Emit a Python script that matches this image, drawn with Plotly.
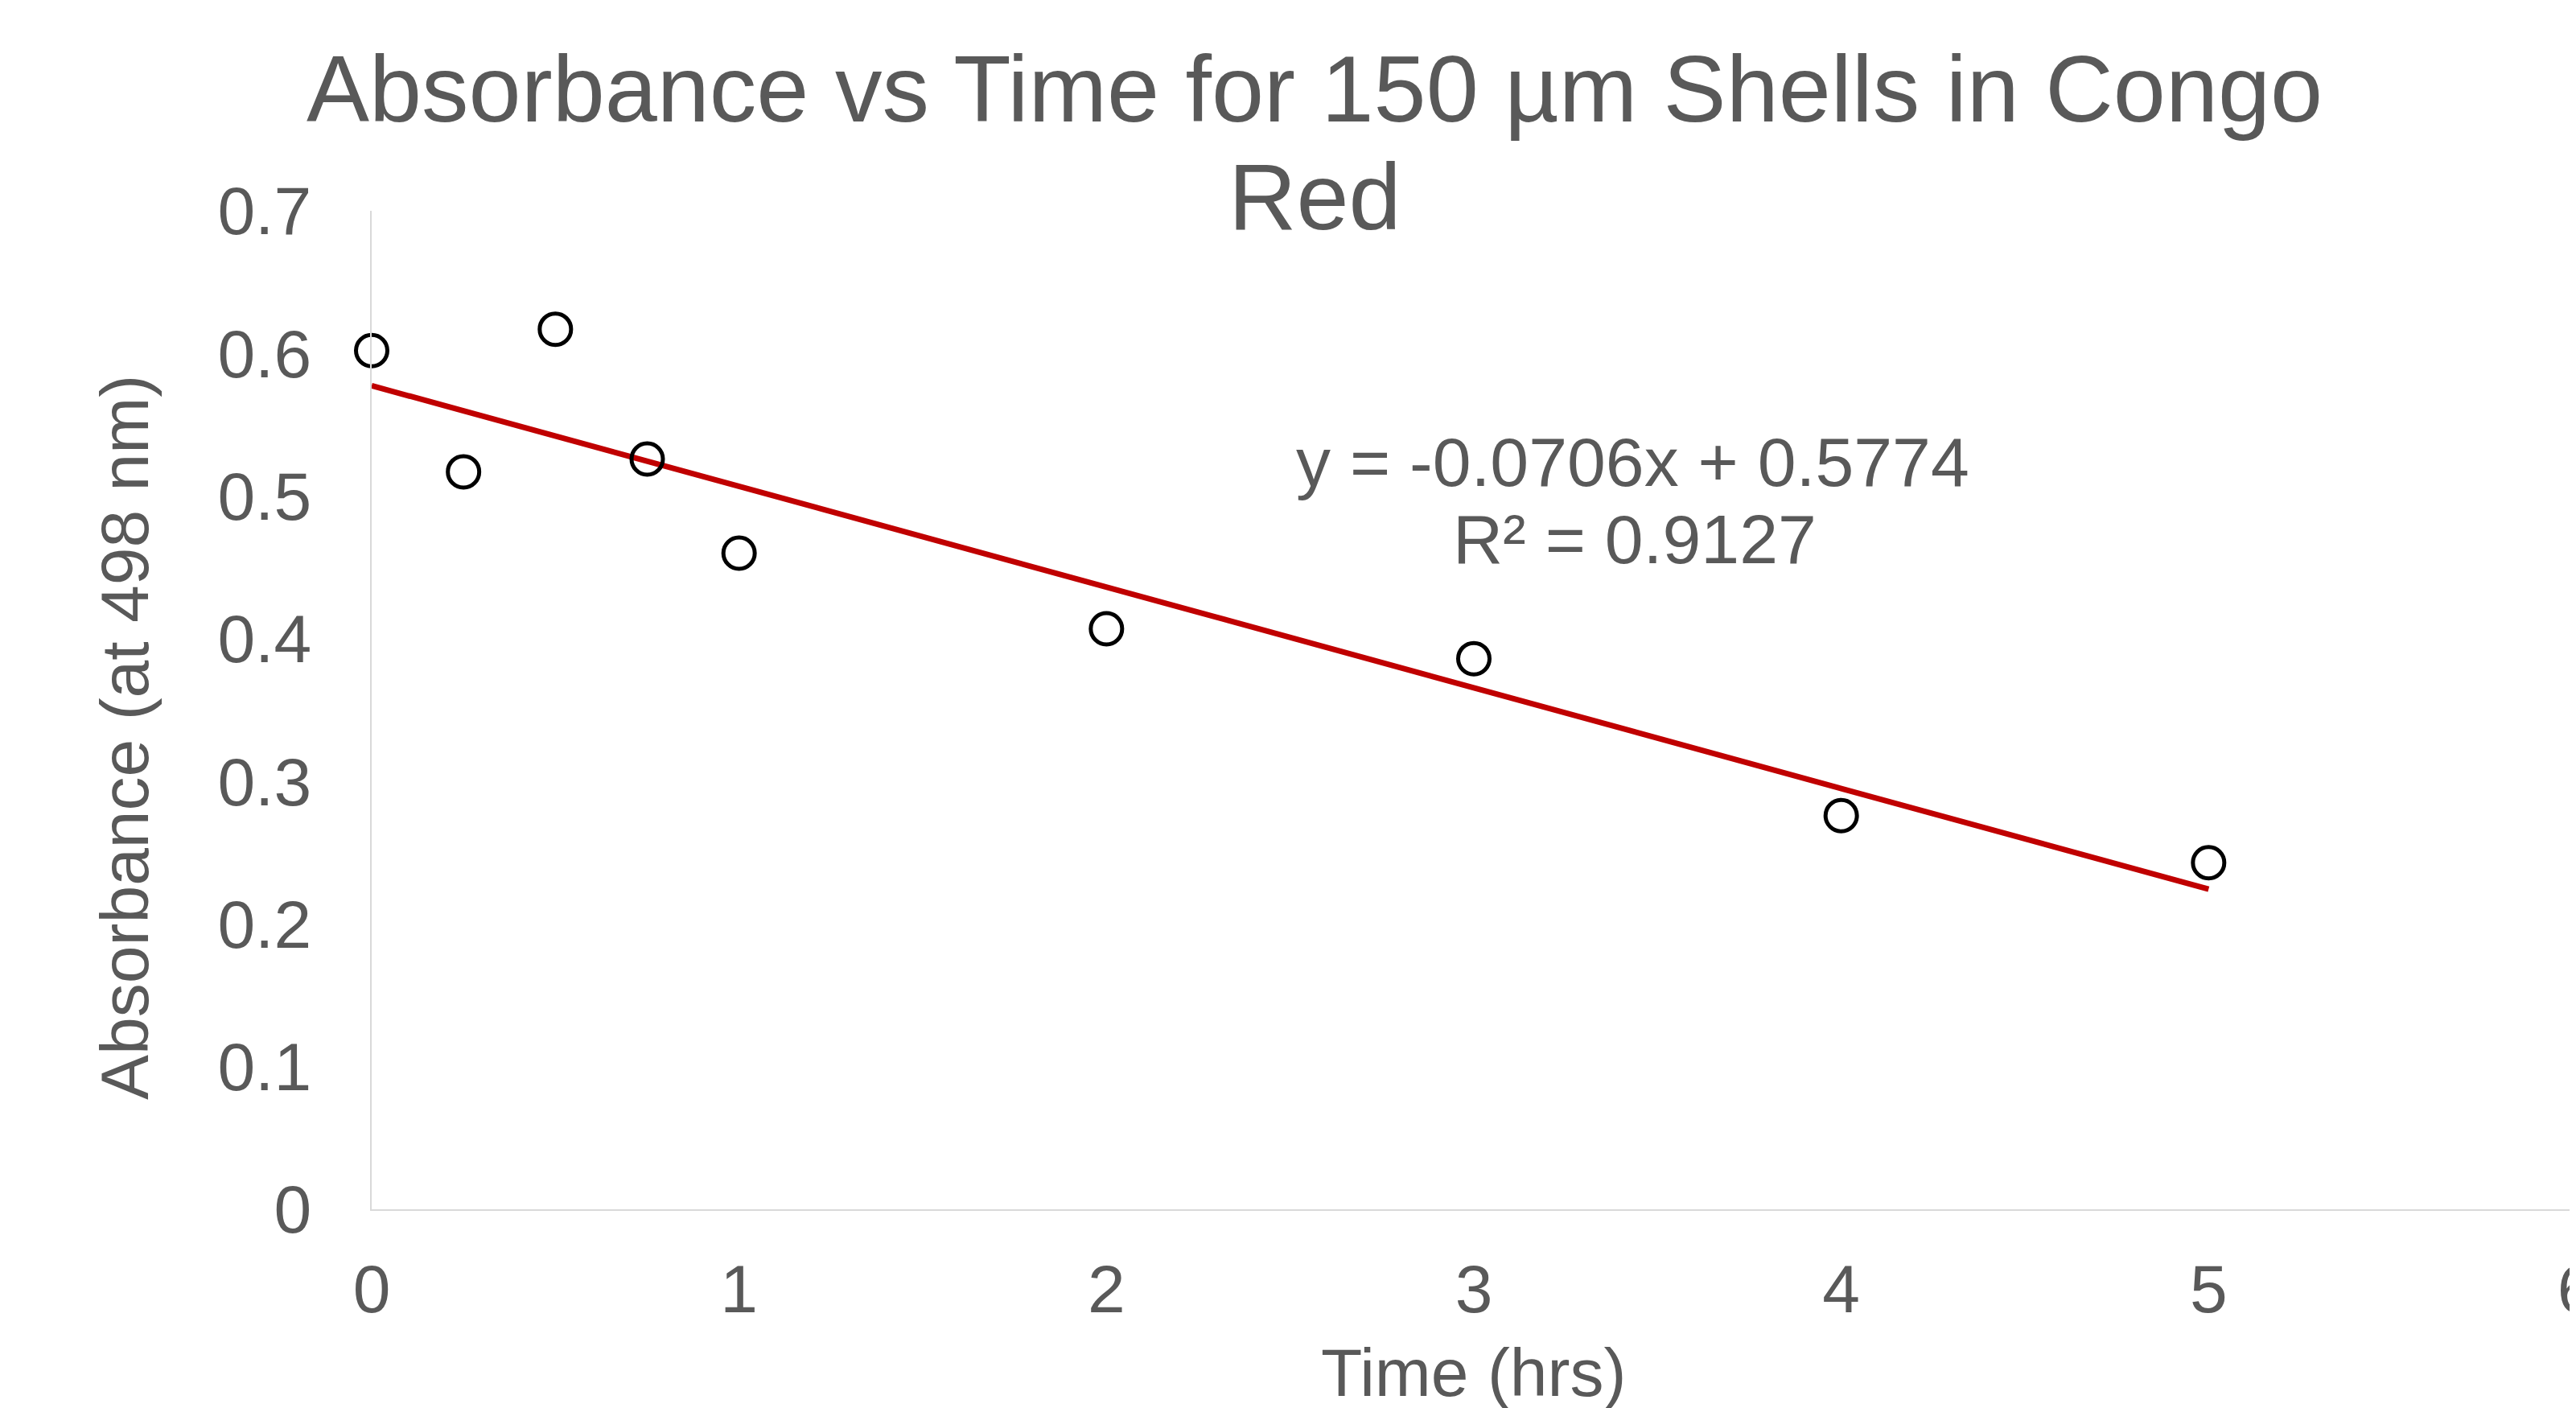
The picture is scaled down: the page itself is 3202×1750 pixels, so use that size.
import plotly.graph_objects as go

# ---- data ----
time_hrs = [0, 0.25, 0.5, 0.75, 1, 2, 3, 4, 5]
absorbance = [0.602, 0.517, 0.617, 0.526, 0.460, 0.407, 0.386, 0.276, 0.243]
trend_slope = -0.0706
trend_intercept = 0.5774
trend_x = [0, 5]
eq_text = "y = -0.0706x + 0.5774"
r2_text = "R² = 0.9127"
x_ticks = [0, 1, 2, 3, 4, 5, 6]
y_ticks = [0, 0.1, 0.2, 0.3, 0.4, 0.5, 0.6, 0.7]
y_tick_labels = ["0", "0.1", "0.2", "0.3", "0.4", "0.5", "0.6", "0.7"]
title_lines = ["Absorbance vs Time for 150 µm Shells in Congo", "Red"]
x_title = "Time (hrs)"
y_title = "Absorbance (at 498 nm)"

OFF = 8  # page body margin
W, H = 3202 - OFF, 1750 - OFF
L = 462 - OFF
T = 262 - OFF
B = H - (1503 - OFF)
R = 0
PW = W - L - R
PH = H - T - B
TXT = "#595959"
FONT = "Liberation Sans, Arial, sans-serif"


def px(x):  # screen pixel -> paper x
    return (x - OFF - L) / PW


def py(y):  # screen pixel -> paper y
    return (H - B - (y - OFF)) / PH


trend_y = [trend_slope * x + trend_intercept for x in trend_x]

fig = go.Figure()
fig.add_trace(go.Scatter(x=trend_x, y=trend_y, mode="lines",
                         line=dict(color="#C00000", width=7), showlegend=False,
                         hoverinfo="skip", cliponaxis=False))
fig.add_trace(go.Scatter(x=time_hrs, y=absorbance, mode="markers",
                         marker=dict(symbol="circle-open", size=39,
                                     color="black", line=dict(width=5, color="black")),
                         showlegend=False, cliponaxis=False))

ann = []
ann.append(dict(text=title_lines[0], x=px(1634), y=py(111), xref="paper", yref="paper",
                xanchor="center", yanchor="middle", showarrow=False,
                font=dict(size=117, color=TXT, family=FONT)))
ann.append(dict(text=title_lines[1], x=px(1634), y=py(245), xref="paper", yref="paper",
                xanchor="center", yanchor="middle", showarrow=False,
                font=dict(size=117, color=TXT, family=FONT)))
ann.append(dict(text=eq_text, x=px(2030), y=py(574), xref="paper", yref="paper",
                xanchor="center", yanchor="middle", showarrow=False,
                font=dict(size=86, color=TXT, family=FONT)))
ann.append(dict(text=r2_text, x=px(2032), y=py(670), xref="paper", yref="paper",
                xanchor="center", yanchor="middle", showarrow=False,
                font=dict(size=86, color=TXT, family=FONT)))
ann.append(dict(text=x_title, x=px(1832), y=py(1706), xref="paper", yref="paper",
                xanchor="center", yanchor="middle", showarrow=False,
                font=dict(size=84, color=TXT, family=FONT)))
ann.append(dict(text=y_title, x=px(155), y=py(917), xref="paper", yref="paper",
                xanchor="center", yanchor="middle", showarrow=False, textangle=-90,
                font=dict(size=84, color=TXT, family=FONT)))
ann.append(dict(text="6", x=px(14), y=py(1600), xref="paper", yref="paper",
                xanchor="right", yanchor="middle", showarrow=False,
                font=dict(size=84, color=TXT, family=FONT)))

fig.update_layout(
    width=W, height=H, autosize=False,
    margin=dict(l=L, r=R, t=T, b=B, pad=0, autoexpand=False),
    paper_bgcolor="white", plot_bgcolor="white",
    annotations=ann,
    xaxis=dict(range=[0, 6], tickvals=x_ticks, ticks="", showgrid=False,
               zeroline=False, showline=True, linecolor="#D9D9D9", linewidth=2,
               tickfont=dict(size=84, color=TXT, family=FONT), automargin=False,
               ticklabelstandoff=25, ticklabeloverflow="allow"),
    yaxis=dict(range=[0, 0.7], tickvals=y_ticks, ticktext=y_tick_labels, ticks="",
               showgrid=False, zeroline=False, showline=True, linecolor="#D9D9D9",
               linewidth=2, tickfont=dict(size=84, color=TXT, family=FONT),
               automargin=False, ticklabelstandoff=56),
)

fig.write_html("out.html")
